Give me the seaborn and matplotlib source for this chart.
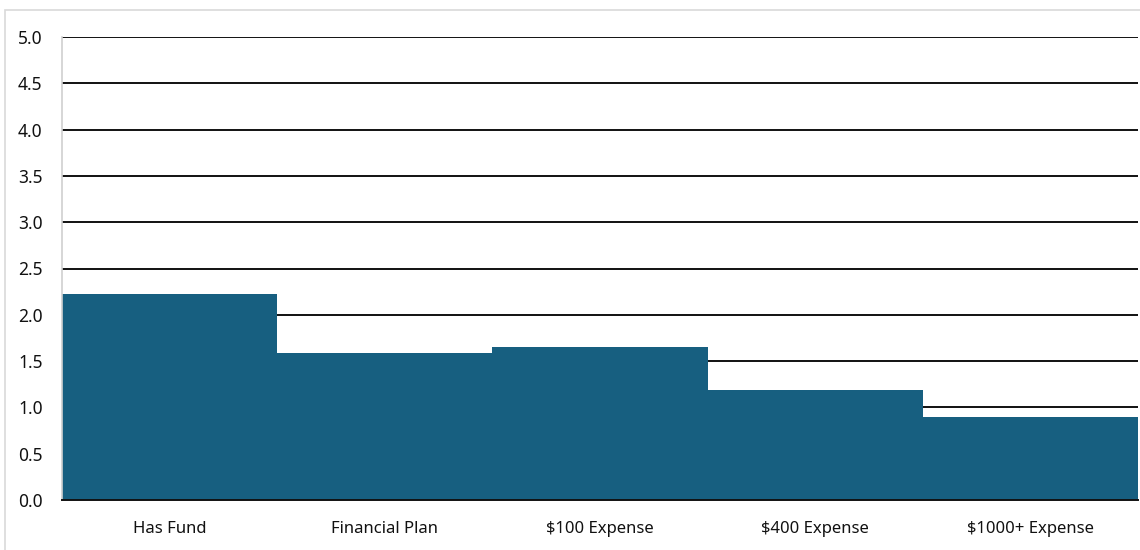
import matplotlib
matplotlib.use("Agg")
import matplotlib.pyplot as plt
import seaborn as sns
import pandas as pd
from matplotlib.patches import Rectangle

categories = ["Has Fund", "Financial Plan", "$100 Expense", "$400 Expense", "$1000+ Expense"]
values = [2.23, 1.59, 1.65, 1.19, 0.90]
y_ticks = [0.0, 0.5, 1.0, 1.5, 2.0, 2.5, 3.0, 3.5, 4.0, 4.5, 5.0]

df = pd.DataFrame({"category": categories, "value": values})

sns.set_theme(style="white")
plt.rcParams["font.family"] = ["Noto Sans", "DejaVu Sans"]

fig = plt.figure(figsize=(11.4, 5.5), dpi=100)
ax = fig.add_axes([62 / 1140, 1 - 500 / 550, 1076 / 1140, 463 / 550])

# outer frame of the chart area
fig.patches.append(Rectangle((5 / 1140, -0.05), 1.2, 1 - 10 / 550 + 0.05,
                             transform=fig.transFigure, fill=False,
                             edgecolor="#d9d9d9", linewidth=1.2, zorder=0))

sns.barplot(data=df, x="category", y="value", color="#175f80", width=1.0,
            saturation=1, linewidth=0, edgecolor="none", ax=ax, zorder=2)

ax.set_ylim(0, 5.0)
ax.set_xlim(-0.5, 4.5)
ax.set_yticks(y_ticks)
ax.set_yticklabels([f"{t:.1f}" for t in y_ticks])
ax.yaxis.grid(True, color="#111111", linewidth=1.4)
ax.set_axisbelow(True)
ax.set_xlabel("")
ax.set_ylabel("")
ax.tick_params(axis="both", length=0, colors="#111111")
ax.tick_params(axis="x", pad=15, labelsize=12)
ax.tick_params(axis="y", pad=14, labelsize=12.5)

for s in ["top", "right"]:
    ax.spines[s].set_visible(False)
ax.spines["left"].set_color("#d0d0d0")
ax.spines["left"].set_linewidth(1.2)
ax.spines["bottom"].set_color("#111111")
ax.spines["bottom"].set_linewidth(1.4)
ax.spines["bottom"].set_zorder(3)

fig.savefig("out.png", dpi=100)
